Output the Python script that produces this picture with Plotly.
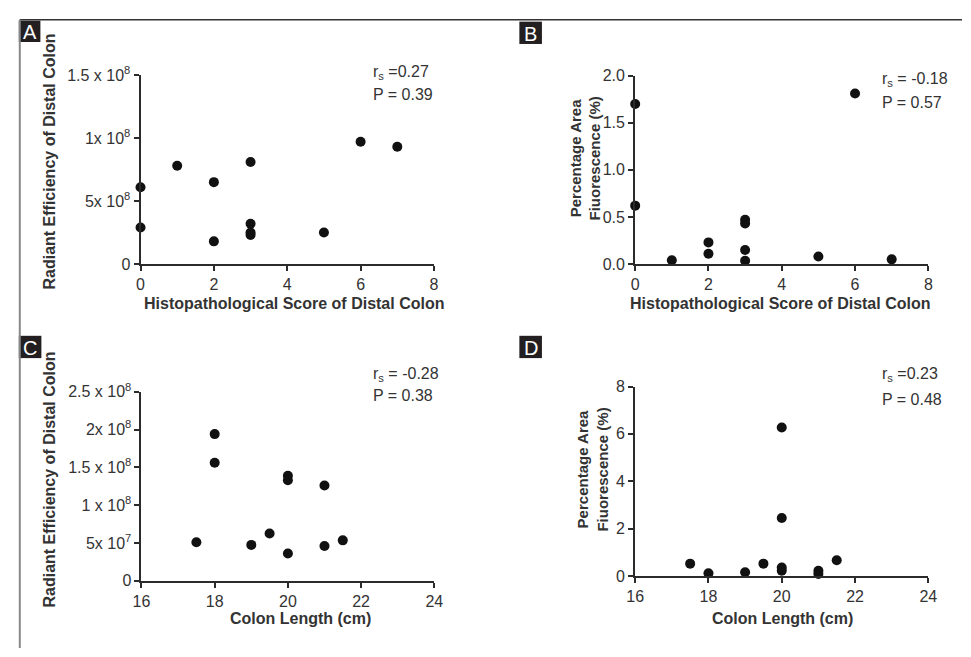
import plotly.graph_objects as go

W, H = 971, 657

# ---------------- data ----------------
# Panel A: histopathological score vs radiant efficiency
a_score = [0, 0, 1, 2, 2, 3, 3, 3, 3, 5, 6, 7]
a_radiant = [6.1e7, 2.9e7, 7.8e7, 6.5e7, 1.8e7, 8.1e7, 3.2e7, 2.5e7, 2.3e7, 2.5e7, 9.7e7, 9.3e7]
# Panel B: histopathological score vs percentage area fluorescence
b_score = [0, 0, 1, 2, 2, 3, 3, 3, 3, 5, 6, 7]
b_percent = [1.70, 0.62, 0.04, 0.23, 0.11, 0.47, 0.43, 0.15, 0.035, 0.08, 1.81, 0.05]
# Panel C: colon length vs radiant efficiency
c_length = [17.5, 18, 18, 19, 19.5, 20, 20, 20, 21, 21, 21.5]
c_radiant = [5.1e7, 1.94e8, 1.56e8, 4.75e7, 6.25e7, 1.39e8, 1.33e8, 3.6e7, 1.26e8, 4.6e7, 5.35e7]
# Panel D: colon length vs percentage area fluorescence
d_length = [17.5, 18, 19, 19.5, 20, 20, 20, 20, 21, 21, 21.5]
d_percent = [0.52, 0.11, 0.16, 0.52, 6.27, 2.45, 0.36, 0.22, 0.22, 0.08, 0.66]

# tick labels
score_ticks = [0, 2, 4, 6, 8]
length_ticks = [16, 18, 20, 22, 24]
a_yticks = [0, 5e7, 1e8, 1.5e8]
a_yticktext = ["0", "5x 10<sup>8</sup>", "1x 10<sup>8</sup>", "1.5 x 10<sup>8</sup>"]
b_yticks = [0, 0.5, 1.0, 1.5, 2.0]
b_yticktext = ["0.0", "0.5", "1.0", "1.5", "2.0"]
c_yticks = [0, 5e7, 1e8, 1.5e8, 2e8, 2.5e8]
c_yticktext = ["0", "5x 10<sup>7</sup>", "1 x 10<sup>8</sup>", "1.5 x 10<sup>8</sup>",
               "2x 10<sup>8</sup>", "2.5 x 10<sup>8</sup>"]
d_yticks = [0, 2, 4, 6, 8]

stats = {
    "A": ("r<sub>s</sub> =0.27", "P = 0.39"),
    "B": ("r<sub>s</sub> = -0.18", "P = 0.57"),
    "C": ("r<sub>s</sub> = -0.28", "P = 0.38"),
    "D": ("r<sub>s</sub> =0.23", "P = 0.48"),
}

FONT = "Liberation Sans, Arial, sans-serif"
AX = "#2b2b2b"
TXT = "#333333"


def px_x(p):
    return p / W


def px_y(p):
    return 1 - p / H


fig = go.Figure()

panels = [
    ("A", a_score, a_radiant, 1, (134, 433, 66, 261), [0, 8], [0, 1.5e8], score_ticks, a_yticks, a_yticktext),
    ("B", b_score, b_percent, 2, (638, 936.7, 66.7, 261), [0, 8], [0, 2.0], score_ticks, b_yticks, b_yticktext),
    ("C", c_length, c_radiant, 3, (135, 433.3, 392.7, 587.7), [16, 24], [0, 2.5e8], length_ticks, c_yticks, c_yticktext),
    ("D", d_length, d_percent, 4, (638, 936.7, 387.3, 582.7), [16, 24], [0, 8], length_ticks, d_yticks, [str(v) for v in d_yticks]),
]

for name, xs, ys, i, (x0, x1, yt, yb), xr, yr, xt, yv, ytxt in panels:
    sfx = "" if i == 1 else str(i)
    fig.add_trace(go.Scatter(
        x=xs, y=ys, mode="markers",
        marker=dict(size=10, color="#111111"),
        xaxis="x" + sfx, yaxis="y" + sfx, cliponaxis=False, showlegend=False,
        hoverinfo="x+y",
    ))
    common = dict(showline=True, linecolor=AX, linewidth=2, ticks="outside", ticklen=5,
                  tickwidth=2, tickcolor=AX, showgrid=False, zeroline=False,
                  tickfont=dict(family=FONT, size=16, color=TXT))
    fig.update_layout({
        "xaxis" + sfx: dict(domain=[px_x(x0), px_x(x1)], range=xr, tickvals=xt,
                            anchor="y" + sfx, **common),
        "yaxis" + sfx: dict(domain=[px_y(yb), px_y(yt)], range=yr, tickvals=yv, ticktext=ytxt,
                            anchor="x" + sfx, **common),
    })

annotations = []


def add_text(text, x, y, size=16, bold=False, angle=0, xanchor="center", color=TXT):
    if bold:
        text = "<b>" + text + "</b>"
    annotations.append(dict(text=text, x=px_x(x), y=px_y(y), xref="paper", yref="paper",
                            showarrow=False, textangle=angle, xanchor=xanchor, yanchor="middle",
                            font=dict(family=FONT, size=size, color=color)))


# axis titles
add_text("Histopathological Score of Distal Colon", 290, 302, size=16, bold=True)
add_text("Histopathological Score of Distal Colon", 786, 302, size=16, bold=True)
add_text("Colon Length (cm)", 297, 627, size=16, bold=True)
add_text("Colon Length (cm)", 788, 627, size=16, bold=True)
add_text("Radiant Efficiency of Distal Colon", 41, 155, size=16, bold=True, angle=-90)
add_text("Radiant Efficiency of Distal Colon", 41, 483, size=16, bold=True, angle=-90)
add_text("Percentage Area<br>Fiuorescence (%)", 587, 152, size=15, bold=True, angle=-90)
add_text("Percentage Area<br>Fiuorescence (%)", 595, 473, size=15, bold=True, angle=-90)

# stats
stat_pos = {"A": (369, 63, 86), "B": (887, 71, 94), "C": (369, 375, 397), "D": (887, 375, 401)}
for k, (xp, y1, y2) in stat_pos.items():
    add_text(stats[k][0], xp, y1, size=16, xanchor="left")
    add_text(stats[k][1], xp, y2, size=16, xanchor="left")

# panel labels
shapes = []
label_boxes = {"A": (10, 10, 32, 32), "B": (520, 11, 543, 34), "C": (10, 335, 33, 358), "D": (520, 335, 543, 358)}
for k, (bx0, by0, bx1, by1) in label_boxes.items():
    shapes.append(dict(type="rect", xref="paper", yref="paper", x0=px_x(bx0), x1=px_x(bx1),
                       y0=px_y(by1), y1=px_y(by0), fillcolor="#231f20", line=dict(width=0)))
    add_text(k, (bx0 + bx1) / 2, (by0 + by1) / 2 + 1, size=20, color="white")

# frame lines
shapes.append(dict(type="line", xref="paper", yref="paper", x0=px_x(11), x1=1.0,
                   y0=px_y(9), y1=px_y(9), line=dict(color="#333333", width=1.5)))
shapes.append(dict(type="line", xref="paper", yref="paper", x0=px_x(11), x1=px_x(11),
                   y0=px_y(9), y1=0, line=dict(color="#888888", width=2)))

fig.update_layout(
    width=W, height=H, margin=dict(l=0, r=0, t=0, b=0),
    paper_bgcolor="white", plot_bgcolor="white",
    annotations=annotations, shapes=shapes,
    font=dict(family=FONT, color=TXT),
)

fig.write_html(
    "out.html",
    config={"displayModeBar": False, "responsive": False},
    post_script=(
        "document.documentElement.style.margin='0';"
        "document.documentElement.style.overflow='hidden';"
        "document.body.style.margin='0';document.body.style.padding='0';"
        "document.body.style.overflow='hidden';"
        "var d=document.getElementById('{plot_id}');"
        "d.style.position='fixed';d.style.left='0px';d.style.top='0px';"
    ),
)
